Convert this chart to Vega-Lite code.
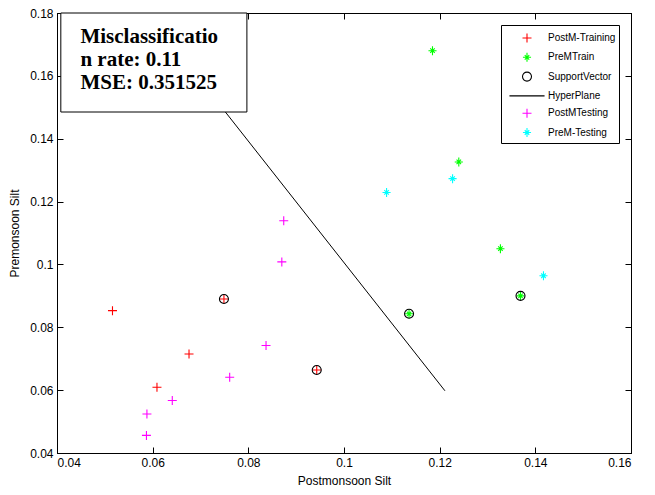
{
  "$schema": "https://vega.github.io/schema/vega-lite/v6.json",
  "width": 574,
  "height": 440,
  "autosize": "none",
  "padding": {"left": 57, "top": 13, "right": 24, "bottom": 42},
  "background": "white",
  "config": {
    "view": {"stroke": "black", "strokeWidth": 1},
    "axis": {
      "labelFont": "Liberation Sans",
      "labelFontSize": 12,
      "labelColor": "black",
      "titleFont": "Liberation Sans",
      "titleFontSize": 12,
      "titleFontWeight": "normal",
      "titleColor": "black",
      "domainColor": "black",
      "tickColor": "black",
      "grid": false,
      "tickSize": -6,
      "labelPadding": 10
    }
  },
  "data": {
    "values": [
      {"series": "PostM-Training", "x": 0.0516, "y": 0.0853},
      {"series": "PostM-Training", "x": 0.0749, "y": 0.0890},
      {"series": "PostM-Training", "x": 0.0676, "y": 0.0715},
      {"series": "PostM-Training", "x": 0.0609, "y": 0.0609},
      {"series": "PostM-Training", "x": 0.0943, "y": 0.0664},
      {"series": "PreMTrain", "x": 0.1185, "y": 0.1680},
      {"series": "PreMTrain", "x": 0.1240, "y": 0.1326},
      {"series": "PreMTrain", "x": 0.1327, "y": 0.1050},
      {"series": "PreMTrain", "x": 0.1369, "y": 0.0900},
      {"series": "PreMTrain", "x": 0.1136, "y": 0.0843},
      {"series": "SupportVector", "x": 0.0749, "y": 0.0890},
      {"series": "SupportVector", "x": 0.0943, "y": 0.0664},
      {"series": "SupportVector", "x": 0.1369, "y": 0.0900},
      {"series": "SupportVector", "x": 0.1136, "y": 0.0843},
      {"series": "PostMTesting", "x": 0.0837, "y": 0.0742},
      {"series": "PostMTesting", "x": 0.0761, "y": 0.0641},
      {"series": "PostMTesting", "x": 0.0641, "y": 0.0567},
      {"series": "PostMTesting", "x": 0.0588, "y": 0.0524},
      {"series": "PostMTesting", "x": 0.0587, "y": 0.0456},
      {"series": "PostMTesting", "x": 0.0874, "y": 0.1139},
      {"series": "PostMTesting", "x": 0.0870, "y": 0.1008},
      {"series": "PreM-Testing", "x": 0.1227, "y": 0.1273},
      {"series": "PreM-Testing", "x": 0.1089, "y": 0.1229},
      {"series": "PreM-Testing", "x": 0.1417, "y": 0.0964},
      {"series": "HyperPlane", "x": 0.0589, "y": 0.1800, "order": 1},
      {"series": "HyperPlane", "x": 0.1211, "y": 0.0598, "order": 2}
    ]
  },
  "resolve": {"axis": {"x": "independent", "y": "independent"}},
  "layer": [
    {
      "transform": [{"filter": "datum.series !== 'HyperPlane'"}],
      "mark": {"type": "point", "filled": false, "size": 324, "strokeWidth": 1.1, "opacity": 1},
      "encoding": {
        "x": {
          "field": "x", "type": "quantitative",
          "scale": {"domain": [0.04, 0.16], "nice": false, "zero": false},
          "axis": {"orient": "bottom", "title": "Postmonsoon Silt", "values": [0.04, 0.06, 0.08, 0.1, 0.12, 0.14, 0.16], "format": ".2~f", "titlePadding": 7}
        },
        "y": {
          "field": "y", "type": "quantitative",
          "scale": {"domain": [0.04, 0.18], "nice": false, "zero": false},
          "axis": {"orient": "left", "title": "Premonsoon Silt", "values": [0.04, 0.06, 0.08, 0.1, 0.12, 0.14, 0.16, 0.18], "format": ".2~f", "titlePadding": 8}
        },
        "color": {
          "field": "series", "type": "nominal",
          "scale": {
            "domain": ["PostM-Training", "PreMTrain", "SupportVector", "HyperPlane", "PostMTesting", "PreM-Testing"],
            "range": ["#ff0000", "#00ff00", "#000000", "#000000", "#ff00ff", "#00ffff"]
          },
          "legend": {
            "orient": "none", "legendX": 444, "legendY": 12, "title": null,
            "padding": 3, "symbolOffset": 13, "labelOffset": 11, "rowPadding": 2.3,
            "symbolSize": 324, "symbolStrokeWidth": 1.1,
            "strokeColor": "black", "fillColor": "white",
            "labelFont": "Liberation Sans", "labelFontSize": 10, "labelColor": "black"
          }
        },
        "shape": {
          "field": "series", "type": "nominal",
          "scale": {
            "domain": ["PostM-Training", "PreMTrain", "SupportVector", "HyperPlane", "PostMTesting", "PreM-Testing"],
            "range": [
              "M-0.5,0L0.5,0M0,-0.5L0,0.5",
              "M-0.45,0L0.45,0M0,-0.5L0,0.5M-0.25,-0.25L0.25,0.25M-0.25,0.25L0.25,-0.25",
              "M-0.5,0A0.5,0.5 0 1,1 0.5,0A0.5,0.5 0 1,1 -0.5,0Z",
              "M-1.95,0L1.95,0",
              "M-0.5,0L0.5,0M0,-0.5L0,0.5",
              "M-0.45,0L0.45,0M0,-0.5L0,0.5M-0.25,-0.25L0.25,0.25M-0.25,0.25L0.25,-0.25"
            ]
          },
          "legend": {
            "orient": "none", "legendX": 444, "legendY": 12, "title": null,
            "padding": 3, "symbolOffset": 13, "labelOffset": 11, "rowPadding": 2.3,
            "symbolSize": 324, "symbolStrokeWidth": 1.1,
            "strokeColor": "black", "fillColor": "white",
            "labelFont": "Liberation Sans", "labelFontSize": 10, "labelColor": "black"
          }
        }
      }
    },
    {
      "transform": [{"filter": "datum.series === 'HyperPlane'"}],
      "mark": {"type": "line", "strokeWidth": 1, "color": "black"},
      "encoding": {
        "x": {
          "field": "x", "type": "quantitative",
          "axis": {"orient": "top", "title": null, "labels": false, "values": [0.04, 0.06, 0.08, 0.1, 0.12, 0.14, 0.16]}
        },
        "y": {
          "field": "y", "type": "quantitative",
          "axis": {"orient": "right", "title": null, "labels": false, "values": [0.04, 0.06, 0.08, 0.1, 0.12, 0.14, 0.16, 0.18]}
        },
        "order": {"field": "order", "type": "quantitative"}
      }
    },
    {
      "data": {"values": [{"label": "Misclassificatio\nn rate: 0.11\nMSE: 0.351525"}]},
      "layer": [
        {
          "mark": {"type": "rect", "fill": "white", "stroke": "black", "strokeWidth": 1},
          "encoding": {
            "x": {"datum": 0.0408, "type": "quantitative", "axis": null},
            "x2": {"datum": 0.0797},
            "y": {"datum": 0.1485, "type": "quantitative", "axis": null},
            "y2": {"datum": 0.18}
          }
        },
        {
          "mark": {"type": "text", "align": "left", "baseline": "alphabetic", "font": "Liberation Serif", "fontWeight": "bold", "fontSize": 21, "lineHeight": 23.3, "lineBreak": "\n", "color": "black"},
          "encoding": {
            "x": {"datum": 0.0449, "type": "quantitative", "axis": null},
            "y": {"datum": 0.1706, "type": "quantitative", "axis": null},
            "text": {"field": "label"}
          }
        }
      ]
    }
  ]
}
